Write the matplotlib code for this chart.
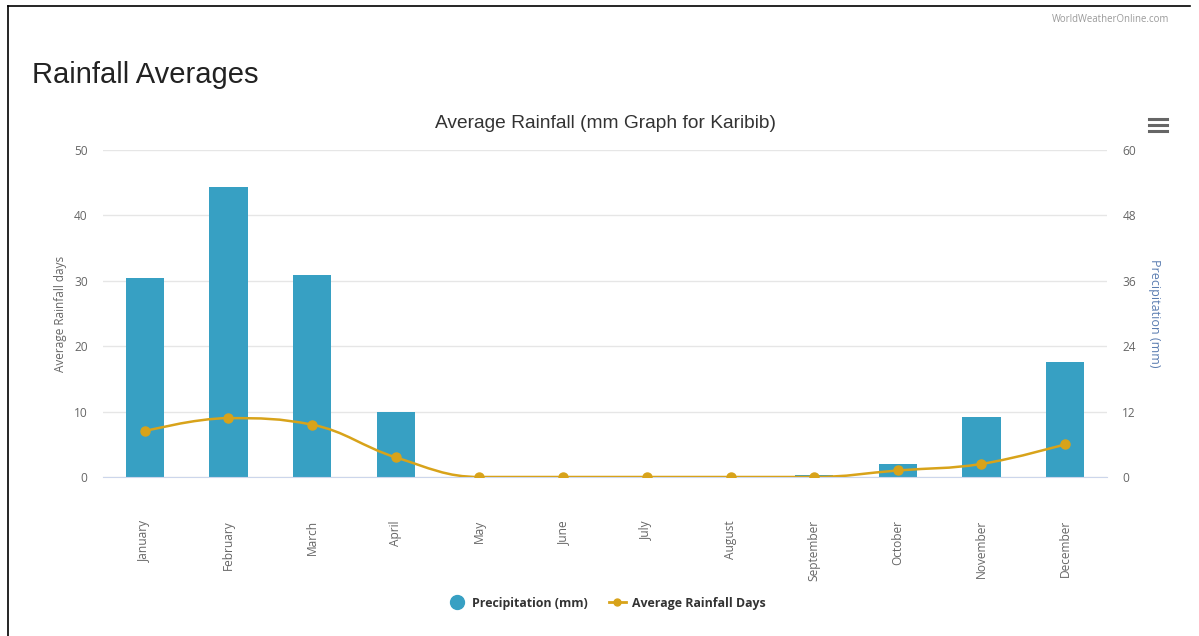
import numpy as np
import matplotlib
matplotlib.use('Agg')
import matplotlib.pyplot as plt
from matplotlib.path import Path
from matplotlib.patches import PathPatch
from matplotlib.lines import Line2D

months = ['January', 'February', 'March', 'April', 'May', 'June', 'July',
          'August', 'September', 'October', 'November', 'December']
precip_mm = [36.5, 53.2, 37.0, 11.9, 0.0, 0.0, 0.0, 0.0, 0.4, 2.3, 11.0, 21.1]
rain_days = [7, 9, 8, 3, 0, 0, 0, 0, 0, 1, 2, 5]
days_ticks = [0, 10, 20, 30, 40, 50]
precip_ticks = [0, 12, 24, 36, 48, 60]

BAR = '#37a0c3'
LINE = '#d8a31a'
TICK = '#666666'
W, H = 1199, 636


def spline_path(xs, ys, smoothing=1.5):
    """Bezier path through points, no overshoot past neighbours."""
    n = len(xs)
    ctrl = [None] * n
    for i in range(1, n - 1):
        lx, ly = xs[i - 1], ys[i - 1]
        px, py = xs[i], ys[i]
        nx, ny = xs[i + 1], ys[i + 1]
        d = smoothing + 1
        lcx, lcy = (smoothing * px + lx) / d, (smoothing * py + ly) / d
        rcx, rcy = (smoothing * px + nx) / d, (smoothing * py + ny) / d
        corr = 0.0
        if rcx != lcx:
            corr = (rcy - lcy) * (rcx - px) / (rcx - lcx) + py - rcy
        lcy += corr
        rcy += corr
        if lcy > ly and lcy > py:
            lcy = max(ly, py)
            rcy = 2 * py - lcy
        elif lcy < ly and lcy < py:
            lcy = min(ly, py)
            rcy = 2 * py - lcy
        if rcy > ny and rcy > py:
            rcy = max(ny, py)
            lcy = 2 * py - rcy
        elif rcy < ny and rcy < py:
            rcy = min(ny, py)
            lcy = 2 * py - rcy
        ctrl[i] = ((lcx, lcy), (rcx, rcy))
    verts = [(xs[0], ys[0])]
    codes = [Path.MOVETO]
    for i in range(1, n):
        r = ctrl[i - 1][1] if ctrl[i - 1] else (xs[i - 1], ys[i - 1])
        l = ctrl[i][0] if ctrl[i] else (xs[i], ys[i])
        verts += [r, l, (xs[i], ys[i])]
        codes += [Path.CURVE4] * 3
    return Path(verts, codes)


fig = plt.figure(figsize=(W / 100, H / 100), dpi=100)
fig.patch.set_facecolor('white')

x = np.arange(len(months))

# precipitation bars on the right-hand axis (drawn underneath)
ax = fig.add_axes([103 / W, 1 - 477 / H, (1107 - 103) / W, (477 - 150) / H])
ax2 = ax.twinx()
ax2.bar(x, precip_mm, width=0.46, color=BAR, zorder=2)
ax2.set_ylim(0, 60)
ax2.set_yticks(precip_ticks)
ax2.grid(axis='y', color='#e6e6e6', lw=1, zorder=0)
ax2.set_axisbelow(True)

# rainfall days line on the left axis, on top
ax.set_zorder(ax2.get_zorder() + 1)
ax.patch.set_visible(False)
ax.add_patch(PathPatch(spline_path(x, rain_days), fill=False, ec=LINE, lw=1.8, zorder=3))
ax.plot(x, rain_days, 'o', color=LINE, ms=6.5, zorder=4)
ax.set_ylim(0, 50)
ax.set_yticks(days_ticks)
ax.set_xlim(-0.5, len(months) - 0.5)
ax.set_xticks(x)
ax.set_xticklabels(months, rotation=90, va='top', ha='center')

for a in (ax, ax2):
    for s in a.spines.values():
        s.set_visible(False)
    a.tick_params(length=0, colors=TICK, labelsize=8.6)
    for lab in a.get_xticklabels() + a.get_yticklabels():
        lab.set_fontfamily('Open Sans')
ax.spines['bottom'].set_visible(True)
ax.spines['bottom'].set_color('#ccd6eb')
ax.tick_params(axis='x', pad=31)
ax.tick_params(axis='y', pad=11)
ax2.tick_params(axis='y', pad=11)

ax.set_ylabel('Average Rainfall days', fontfamily='Open Sans', fontsize=8.5,
              color=TICK, labelpad=5)
ax2.set_ylabel('Precipitation (mm)', fontfamily='Open Sans', fontsize=9,
               color='#5b7db1', rotation=270, labelpad=18)

# legend
handles = [Line2D([], [], marker='o', ls='None', color=BAR, ms=10),
           Line2D([], [], marker='o', color=LINE, lw=2, ms=5)]
leg = fig.legend(handles, ['Precipitation (mm)', 'Average Rainfall Days'],
                 loc='center', bbox_to_anchor=(607 / W, 1 - 603 / H), ncol=2,
                 frameon=False, handlelength=1.4, columnspacing=1.7,
                 handletextpad=0.5,
                 prop={'family': 'Open Sans', 'weight': 'bold', 'size': 8.9})
for t in leg.get_texts():
    t.set_color('#333333')

# titles and page decorations
fig.text(32 / W, 1 - 75 / H, 'Rainfall Averages', fontfamily='Liberation Sans',
         fontsize=21, color='#222222', va='center', ha='left')
fig.text(606 / W, 1 - 123 / H, 'Average Rainfall (mm Graph for Karibib)',
         fontfamily='Liberation Sans', fontsize=13.8, color='#333333',
         va='center', ha='center')
fig.text(1169 / W, 1 - 20 / H, 'WorldWeatherOnline.com', fontfamily='Open Sans',
         fontsize=6.9, color='#9a9a9a', va='center', ha='right')

for yy in (119, 125, 130.5):
    fig.add_artist(Line2D([1149 / W, 1167 / W], [1 - yy / H] * 2,
                          color='#666666', lw=2.2, transform=fig.transFigure))

fig.add_artist(Line2D([7.5 / W, 1190 / W], [1 - 5.5 / H] * 2, color='black',
                      lw=1.2, transform=fig.transFigure))
fig.add_artist(Line2D([7.5 / W, 7.5 / W], [1 - 5.5 / H, 0], color='black',
                      lw=1.2, transform=fig.transFigure))

fig.savefig('out.png', dpi=100)
